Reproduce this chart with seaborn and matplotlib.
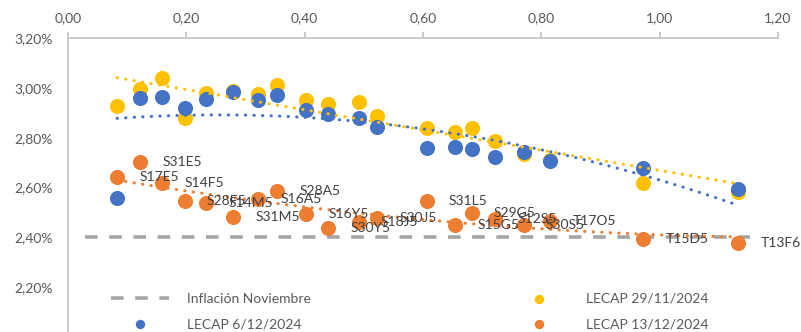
import matplotlib
matplotlib.use("Agg")

import matplotlib.pyplot as plt
import numpy as np
import seaborn as sns
from matplotlib.ticker import FuncFormatter, MultipleLocator

# ─────────────────────────────────────────────────────────────────────────────
# DATA  (duration in years, monthly effective rate in %)
# ─────────────────────────────────────────────────────────────────────────────

tickers = ["S17E5", "S31E5", "S14F5", "S28F5", "S14M5", "S31M5", "S16A5",
           "S28A5", "S16Y5", "S30Y5", "S18J5", "S30J5", "S31L5", "S15G5",
           "S29G5", "S12S5", "S30S5", "T17O5", "T15D5", "T13F6"]

duration = [0.083, 0.122, 0.159, 0.197, 0.234, 0.279, 0.321, 0.354, 0.402,
            0.440, 0.491, 0.523, 0.606, 0.654, 0.682, 0.722, 0.770, 0.815,
            0.972, 1.133]

rate_29_11 = [2.928, 2.995, 3.042, 2.878, 2.981, 2.989, 2.975, 3.012, 2.952,
              2.936, 2.943, 2.888, 2.838, 2.825, 2.841, 2.787, 2.735, 2.712,
              2.620, 2.583]

rate_06_12 = [2.558, 2.961, 2.965, 2.921, 2.956, 2.983, 2.952, 2.972, 2.912,
              2.896, 2.878, 2.845, 2.760, 2.764, 2.754, 2.722, 2.744, 2.707,
              2.677, 2.594]

rate_13_12 = [2.641, 2.704, 2.620, 2.547, 2.539, 2.480, 2.554, 2.586, 2.494,
              2.436, 2.463, 2.476, 2.547, 2.449, 2.496, 2.472, 2.449, 2.465,
              2.392, 2.376]

inflation_x = [0.029, 1.153]
inflation_nov = [2.40, 2.40]

# ─────────────────────────────────────────────────────────────────────────────
# STYLE
# ─────────────────────────────────────────────────────────────────────────────

sns.set_style("white")
plt.rcParams["font.family"] = ["Lato", "DejaVu Sans"]

YELLOW = "#FFC000"
BLUE = "#4472C4"
ORANGE = "#ED7D31"
GREY = "#A5A5A5"
TEXT = "#595959"
AXIS = "#C9C9C9"


def comma(v, fmt):
    return fmt.format(v).replace(".", ",")


def trend(ax, x, y, deg, color):
    """Excel-style dotted polynomial trendline over the data range."""
    coef = np.polyfit(x, y, deg)
    xs = np.linspace(min(x), max(x), 200)
    ax.plot(xs, np.polyval(coef, xs), color=color, lw=2.2,
            linestyle=(0, (0.1, 2.7)), dash_capstyle="round", zorder=5)


fig = plt.figure(figsize=(8.01, 3.32), dpi=100)
ax = fig.add_axes([0.0849, -0.0145, 0.8864, 0.899])

# inflation reference line
ax.plot(inflation_x, inflation_nov, color=GREY, lw=2.6,
        linestyle=(0, (3.5, 3.2)), label="Inflación Noviembre", zorder=1)

# the three LECAP curves
for y, color, name in [(rate_29_11, YELLOW, "LECAP 29/11/2024"),
                       (rate_06_12, BLUE, "LECAP 6/12/2024"),
                       (rate_13_12, ORANGE, "LECAP 13/12/2024")]:
    sns.scatterplot(x=duration, y=y, color=color, s=118, linewidth=0,
                    label=name, ax=ax, zorder=3, legend=False)

trend(ax, duration, rate_29_11, 1, YELLOW)
trend(ax, duration, rate_06_12, 2, BLUE)
trend(ax, duration, rate_13_12, 2, ORANGE)

# ticker labels on the latest curve
for x, y, t in zip(duration, rate_13_12, tickers):
    ax.annotate(t, (x, y), xytext=(16, 0), textcoords="offset points",
                va="center", ha="left", fontsize=10, color="#404040", zorder=6)

# ─────────────────────────────────────────────────────────────────────────────
# AXES
# ─────────────────────────────────────────────────────────────────────────────

ax.set_xlim(0, 1.2)
ax.set_ylim(2.0, 3.2)
ax.xaxis.set_major_locator(MultipleLocator(0.2))
ax.yaxis.set_major_locator(MultipleLocator(0.2))
ax.xaxis.set_major_formatter(FuncFormatter(lambda v, _: comma(v, "{:.2f}")))
ax.yaxis.set_major_formatter(FuncFormatter(lambda v, _: comma(v, "{:.2f}") + "%"))
ax.xaxis.tick_top()

for side in ["right", "bottom"]:
    ax.spines[side].set_visible(False)
for side in ["top", "left"]:
    ax.spines[side].set_color(AXIS)
    ax.spines[side].set_linewidth(1.4)

ax.tick_params(axis="x", length=4, width=1.4, color=AXIS, pad=6,
               labelsize=10, labelcolor=TEXT)
ax.tick_params(axis="y", length=0, pad=11, labelsize=10, labelcolor=TEXT)
ax.set_xlabel("")
ax.set_ylabel("")

handles, labels = ax.get_legend_handles_labels()
order = [labels.index(n) for n in ["Inflación Noviembre", "LECAP 6/12/2024",
                                   "LECAP 29/11/2024", "LECAP 13/12/2024"]]
ax.legend([handles[i] for i in order], [labels[i] for i in order],
          ncol=2, frameon=False, fontsize=10, labelcolor=TEXT,
          loc="upper left", bbox_to_anchor=(0.1386, 0.118),
          bbox_transform=fig.transFigure, borderpad=0, borderaxespad=0,
          handlelength=4.2, handletextpad=1.3, columnspacing=14.3,
          labelspacing=0.95, markerscale=0.62)

fig.savefig("out.png", dpi=100)
plt.close(fig)
